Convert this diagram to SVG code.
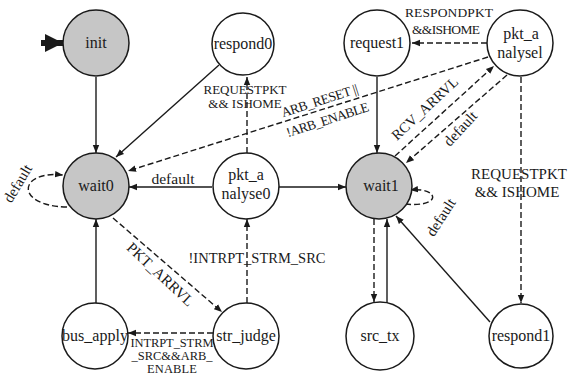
<svg xmlns="http://www.w3.org/2000/svg" width="569" height="376" viewBox="0 0 569 376">
<defs>
<marker id="ah" viewBox="0 0 10 10" refX="10" refY="5" markerWidth="8" markerHeight="8" markerUnits="userSpaceOnUse" orient="auto"><path d="M0,1 L10,5 L0,9 z" fill="#1a1a1a"/></marker>
<marker id="big" viewBox="0 0 10 10" refX="10" refY="5" markerWidth="3" markerHeight="3" orient="auto"><path d="M0,0 L10,5 L0,10 z" fill="#1a1a1a"/></marker>
</defs>
<style>
.n{fill:#fff;stroke:#1a1a1a;stroke-width:1.5}
.g{fill:#c6c6c6}
.t{font-size:16px;fill:#1a1a1a;text-anchor:middle}
.e{font-size:14px;fill:#1a1a1a;text-anchor:middle}
.s{fill:none;stroke:#1a1a1a;stroke-width:1.4;marker-end:url(#ah)}
.d{fill:none;stroke:#1a1a1a;stroke-width:1.4;stroke-dasharray:6,3;marker-end:url(#ah)}
</style>
<rect width="569" height="376" fill="#fff"/>
<g id="connectors">
<line x1="41" y1="43" x2="63" y2="43" stroke="#1a1a1a" stroke-width="6" marker-end="url(#big)"/>
<line class="s" x1="96" y1="77" x2="96" y2="153"/>
<line class="s" x1="219" y1="65" x2="116" y2="157"/>
<line class="d" x1="488" y1="57" x2="128" y2="171"/>
<line class="s" x1="212" y1="187" x2="129" y2="187"/>
<path class="d" d="M67,207 C14,206 18,170 63,175"/>
<line class="d" x1="247" y1="153" x2="247" y2="77"/>
<line class="d" x1="113" y1="218" x2="222" y2="312"/>
<line class="d" x1="247" y1="303" x2="247" y2="219"/>
<line class="d" x1="213" y1="333" x2="128" y2="333"/>
<line class="s" x1="96" y1="303" x2="96" y2="219"/>
<line class="s" x1="278" y1="187" x2="346" y2="187"/>
<line class="s" x1="377" y1="77" x2="377" y2="153"/>
<line class="d" x1="487" y1="43" x2="412" y2="43"/>
<line class="d" x1="395" y1="156" x2="494" y2="66"/>
<line class="d" x1="507" y1="75" x2="406" y2="163"/>
<path class="d" d="M405,204 C442,208 440,187 410,190"/>
<line class="d" x1="374" y1="219" x2="374" y2="302"/>
<line class="s" x1="387" y1="303" x2="387" y2="219"/>
<line class="d" x1="521" y1="77" x2="521" y2="303"/>
<line class="s" x1="490" y1="322" x2="396" y2="216"/>
</g>
<g id="labels" font-family="'Liberation Serif', 'DejaVu Serif', 'Times New Roman', serif">
<text class="e" x="173" y="184" style="font-size:15.5px">default</text>
<text class="e" transform="translate(22,186) rotate(-59)" style="font-size:15px">default</text>
<text class="e" x="245" y="94" style="font-size:13px">REQUESTPKT</text>
<text class="e" x="245" y="108" style="font-size:13px">&amp;&amp; ISHOME</text>
<text class="e" transform="translate(321,105) rotate(-18)" textLength="80" style="font-size:13.5px">ARB_RESET ||</text>
<text class="e" transform="translate(329,124) rotate(-18)" textLength="86" style="font-size:13.5px">!ARB_ENABLE</text>
<text class="e" transform="translate(157,278) rotate(43)" style="font-size:15px">PKT_ARRVL</text>
<text class="e" x="257" y="263" style="font-size:14.5px">!INTRPT_STRM_SRC</text>
<text class="e" x="172" y="347" textLength="83" style="font-size:12.5px">INTRPT_STRM</text>
<text class="e" x="172" y="360" textLength="81" style="font-size:12.5px">_SRC&amp;&amp;ARB_</text>
<text class="e" x="172" y="373" textLength="50" style="font-size:12.5px">ENABLE</text>
<text class="e" x="449" y="17" textLength="88" style="font-size:13.5px">RESPONDPKT</text>
<text class="e" x="446" y="34" textLength="68" style="font-size:13.5px">&amp;&amp;ISHOME</text>
<text class="e" transform="translate(428,112) rotate(-43)" style="font-size:14.5px">RCV_ARRVL</text>
<text class="e" transform="translate(464,132) rotate(-47)" style="font-size:15px">default</text>
<text class="e" transform="translate(445,220) rotate(-57)" style="font-size:15px">default</text>
<text class="e" x="519" y="179" style="font-size:15px">REQUESTPKT</text>
<text class="e" x="517" y="197" style="font-size:15px">&amp;&amp; ISHOME</text>
</g>
<g font-family="'Liberation Serif', 'DejaVu Serif', 'Times New Roman', serif">
<g id="init"><circle class="n g" cx="96" cy="43" r="33"/><text class="t" x="96" y="48">init</text></g>
<g id="respond0"><circle class="n" cx="243" cy="44" r="31"/><text class="t" x="243" y="49">respond0</text></g>
<g id="request1"><circle class="n" cx="377" cy="43" r="33"/><text class="t" x="377" y="48">request1</text></g>
<g id="pkt_analysel"><circle class="n" cx="520" cy="43" r="33"/><text class="t" x="521" y="39">pkt_a</text><text class="t" x="520" y="58">nalysel</text></g>
<g id="wait0"><circle class="n g" cx="96" cy="186" r="33"/><text class="t" x="96" y="191">wait0</text></g>
<g id="pkt_analyse0"><circle class="n" cx="246" cy="186" r="33"/><text class="t" x="246" y="180">pkt_a</text><text class="t" x="246" y="199">nalyse0</text></g>
<g id="wait1"><circle class="n g" cx="379" cy="186" r="33"/><text class="t" x="381" y="191">wait1</text></g>
<g id="bus_apply"><circle class="n" cx="95" cy="336" r="33"/><text class="t" x="95" y="341">bus_apply</text></g>
<g id="str_judge"><circle class="n" cx="246" cy="336" r="33"/><text class="t" x="246" y="341">str_judge</text></g>
<g id="src_tx"><circle class="n" cx="380" cy="336" r="34"/><text class="t" x="380" y="341">src_tx</text></g>
<g id="respond1"><circle class="n" cx="521" cy="336" r="32"/><text class="t" x="521" y="341">respond1</text></g>
</g>
</svg>
